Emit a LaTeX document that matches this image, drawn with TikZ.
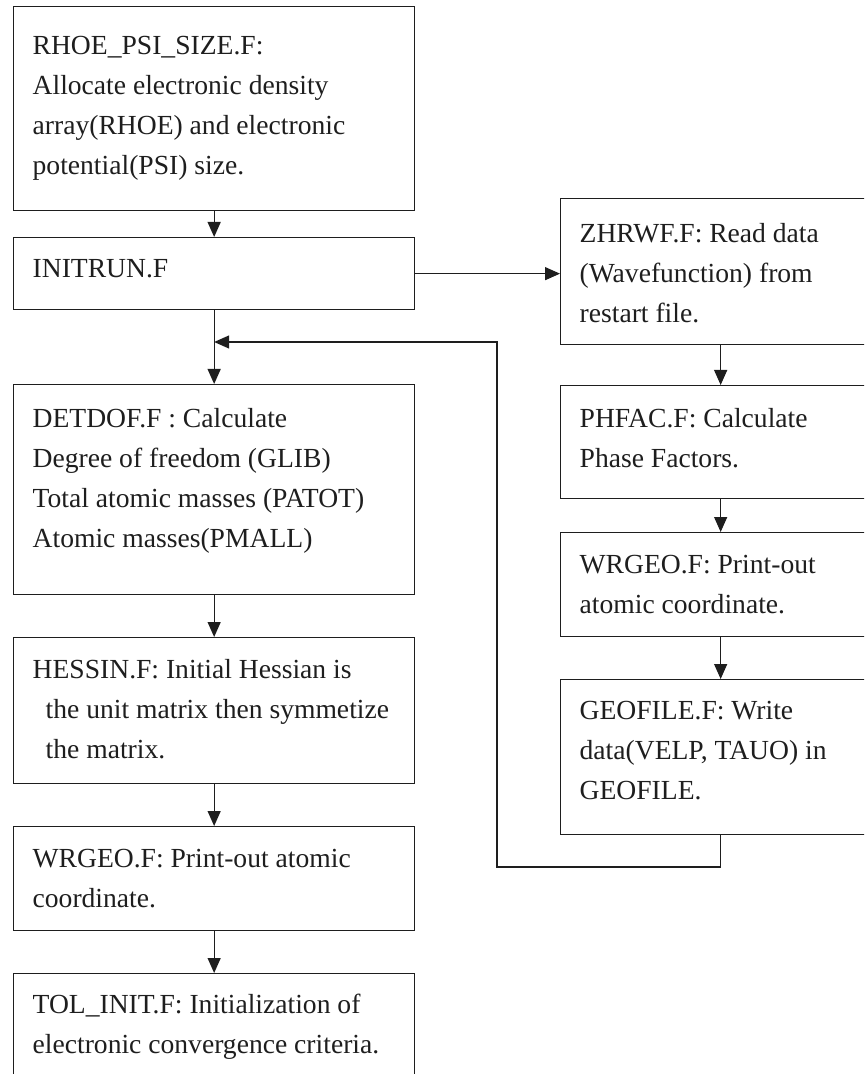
\documentclass[tikz,border=0pt]{standalone}
\usepackage{fontspec}
\setmainfont{Liberation Serif}
\usetikzlibrary{arrows.meta,calc}
\definecolor{ink}{HTML}{1E1E1E}
\newcommand{\boxfont}{\fontsize{13.8}{20}\selectfont}
% box text: [first baseline]{width}{height}{lines}
\newcommand{\boxtext}[4][20.5pt]{\parbox[c][#3][t]{#2}{\leftskip=9.5pt\rule{0pt}{#1}#4}}
\tikzset{
  box/.style={draw=ink,line width=0.65pt,anchor=north west,inner sep=0pt,font=\boxfont,text=ink},
  flow/.style={-{Triangle[length=7.5pt,width=6.5pt]},draw=ink,line width=0.65pt}}

\begin{document}
\begin{tikzpicture}[x=0.5pt,y=-0.5pt]
\useasboundingbox (0,0) rectangle (864,1074);
\clip (0,0) rectangle (864,1074);
% left column
\node[box] (rhoe) at (13,6) {\boxtext[24pt]{200.5pt}{102pt}{RHOE\_PSI\_SIZE.F:\\Allocate electronic density\\array(RHOE) and electronic\\potential(PSI) size.}};
\node[box] (initrun) at (13,237) {\boxtext[20pt]{200.5pt}{36pt}{INITRUN.F}};
\node[box] (detdof) at (13,384) {\boxtext[21.5pt]{200.5pt}{105pt}{DETDOF.F : Calculate\\Degree of freedom (GLIB)\\Total atomic masses (PATOT)\\Atomic masses(PMALL)}};
\node[box] (hessin) at (13,637) {\boxtext{200.5pt}{73pt}{HESSIN.F: Initial Hessian is\\\hspace*{6.5pt}the unit matrix then symmetize\\\hspace*{6.5pt}the matrix.}};
\node[box] (wrgeoa) at (13,826) {\boxtext{200.5pt}{52pt}{WRGEO.F: Print-out atomic\\coordinate.}};
\node[box] (tolinit) at (13,973) {\boxtext[20pt]{200.5pt}{65pt}{TOL\_INIT.F: Initialization of\\electronic convergence criteria.}};
% right column
\node[box] (zhrwf) at (560,198) {\boxtext[22pt]{160pt}{73pt}{ZHRWF.F: Read data\\(Wavefunction) from\\restart file.}};
\node[box] (phfac) at (560,385) {\boxtext[21pt]{160pt}{56.5pt}{PHFAC.F: Calculate\\Phase Factors.}};
\node[box] (wrgeob) at (560,532) {\boxtext{160pt}{52pt}{WRGEO.F: Print-out\\atomic coordinate.}};
\node[box] (geofile) at (560,679) {\boxtext[20pt]{160pt}{77.5pt}{GEOFILE.F: Write\\data(VELP, TAUO) in\\GEOFILE.}};
% connectors
\draw[flow] (rhoe) -- (initrun);
\draw[flow] (initrun) -- (detdof);
\draw[flow] (detdof) -- (hessin);
\draw[flow] (hessin) -- (wrgeoa);
\draw[flow] (wrgeoa) -- (tolinit);
\draw[flow] (initrun.east) -- (initrun.east -| zhrwf.west);
\draw[flow] (zhrwf) -- (phfac);
\draw[flow] (phfac) -- (wrgeob);
\draw[flow] (wrgeob) -- (geofile);
% loop back
\coordinate (loopdown) at (497,867);
\coordinate (loopup) at (497,342);
\draw[flow] (geofile.south) |- (loopdown) -- (loopup) -- (loopup -| initrun.south);
\end{tikzpicture}
\end{document}
